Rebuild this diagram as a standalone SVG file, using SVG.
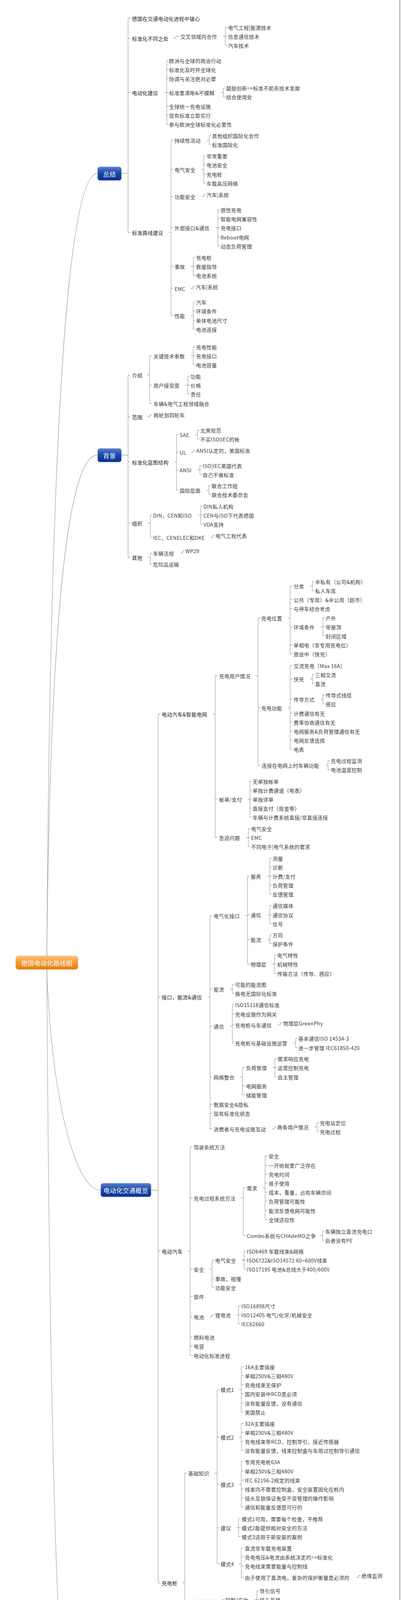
<svg xmlns="http://www.w3.org/2000/svg" width="1027" height="4794" viewBox="0 0 1027 4794">
<defs>
<linearGradient id="blue" x1="0" y1="0" x2="0" y2="1"><stop offset="0" stop-color="#5b7fcc"/><stop offset="0.45" stop-color="#1a49a8"/><stop offset="1" stop-color="#0a3190"/></linearGradient>
<linearGradient id="orange" x1="0" y1="0" x2="0" y2="1"><stop offset="0" stop-color="#fbc27a"/><stop offset="0.5" stop-color="#f29a33"/><stop offset="1" stop-color="#e07d12"/></linearGradient>
<style>
text{font-family:"Noto Sans CJK SC","Liberation Sans",sans-serif;font-size:13px;fill:#3a3a3a;dominant-baseline:central;letter-spacing:0.4px}
.l1{fill:#1e1e1e}
.bt{fill:#fff;font-size:16px;text-anchor:middle}
.box{fill:url(#blue);stroke:#9fb3dd;stroke-width:1}
.c path{fill:none;stroke:#a8a8a8;stroke-width:1.3}
.cv{fill:none;stroke:#b8b8b8;stroke-width:1.4}
</style>
</defs>
<rect width="1027" height="4794" fill="#fff"/>
<line x1="1024" y1="0" x2="1024" y2="4790" stroke="#999" stroke-width="2"/>
<line x1="0" y1="4791" x2="1027" y2="4791" stroke="#444" stroke-width="4"/>

<g id="connectors" class="c">
<path class="cv" d="M120 2447C130 844 190 444 250 444"/>
<path class="cv" d="M120 2447C130 1421 190 1165 250 1165"/>
<path class="cv" d="M120 2482C130 2795 190 3047 258 3047"/>
<path class="cv" d="M120 2482C130 4253 170 4696 220 4696"/>
<!-- 总结 -->
<path d="M311 444H328M328 47V595M328 47h6M328 98h6M328 237h6M328 595h6
M444 98H450V93h8
M571 93H577M577 70V116M577 70h5M577 93h5M577 116h5
M421 237H427M427 155V318M427 155h5M427 178h5M427 201h5M427 237h5M427 272h5M427 295h5M427 318h5
M566 237H572M572 225V248M572 225h5M572 248h5
M432 595H438M438 359V808M438 359h6M438 434h6M438 503h6M438 583h6M438 682h6M438 739h6M438 808h6
M530 359H536M536 347V370M536 347h5M536 370h5
M516 434H522M522 399V469M522 399h5M522 422h5M522 446h5M522 469h5
M516 503H522V498h5
M552 583H558M558 537V630M558 537h5M558 560h5M558 583h5M558 607h5M558 630h5
M489 682H495M495 659V705M495 659h5M495 682h5M495 705h5
M488 739H494V734h5
M489 808H495M495 773V843M495 773h5M495 796h5M495 820h5M495 843h5"/>
<!-- 背景 -->
<path d="M311 1165H328M328 960V1427M328 960h6M328 1067h6M328 1183h6M328 1339h6M328 1427h6
M377 960H383M383 911V1033M383 911h6M383 986h6M383 1033h6
M489 911H495M495 888V934M495 888h5M495 911h5M495 934h5
M475 986H481M481 963V1009M481 963h5M481 986h5M481 1009h5
M377 1067H383V1062h6
M446 1183H452M452 1113V1255M452 1113h5M452 1158h5M452 1203h5M452 1255h5
M500 1113H506M506 1101V1124M506 1101h5M506 1124h5
M490 1158H496V1153h5
M506 1203H512M512 1192V1215M512 1192h5M512 1215h5
M529 1255H535M535 1243V1266M535 1243h5M535 1266h5
M379 1339H385M385 1319V1376M385 1319h5M385 1376h5
M508 1319H514M514 1296V1342M514 1296h5M514 1319h5M514 1342h5
M539 1376H545V1371h5
M379 1427H385M385 1416V1444M385 1416h5M385 1444h5
M462 1416H468V1410h5"/>
<!-- 电动化交通概览 -->
<path d="M387 3047H405M405 1828V4052M405 1828h6M405 2552h6M405 3203h6M405 4052h6
M545 1828H551M551 1730V2144M551 1730h6M551 2046h6M551 2144h6
M655 1730H661M661 1582V1959M661 1582h6M661 1812h6M661 1959h6
M737 1582H743M743 1500V1674M743 1500h6M743 1535h6M743 1558h6M743 1605h6M743 1651h6M743 1674h6
M794 1500H800M800 1489V1512M800 1489h5M800 1512h5
M821 1605H827M827 1582V1628M827 1582h5M827 1605h5M827 1628h5
M737 1812H743M743 1704V1918M743 1704h6M743 1738h6M743 1790h6M743 1826h6M743 1849h6M743 1872h6M743 1895h6M743 1918h6
M794 1738H800M800 1727V1750M800 1727h5M800 1750h5
M821 1790H827M827 1779V1802M827 1779h5M827 1802h5
M834 1959H840M840 1947V1970M840 1947h5M840 1970h5
M634 2046H640M640 2000V2092M640 2000h5M640 2023h5M640 2046h5M640 2069h5M640 2092h5
M630 2144H636M636 2121V2167M636 2121h5M636 2144h5M636 2167h5
M532 2552H538M538 2344V2890M538 2344h6M538 2532h6M538 2627h6M538 2757h6M538 2827h6M538 2850h6M538 2890h6
M628 2344H634M634 2243V2468M634 2243h6M634 2342h6M634 2405h6M634 2468h6
M685 2243H691M691 2197V2289M691 2197h5M691 2220h5M691 2243h5M691 2266h5M691 2289h5
M685 2342H691M691 2318V2365M691 2318h5M691 2342h5M691 2365h5
M685 2405H691M691 2393V2416M691 2393h5M691 2416h5
M697 2468H703M703 2445V2492M703 2445h5M703 2468h5M703 2492h5
M589 2532H595M595 2520V2543M595 2520h5M595 2543h5
M589 2627H595M595 2572V2670M595 2572h5M595 2596h5M595 2624h5M595 2670h5
M712 2624H718V2619h5
M751 2670H757M757 2658V2682M757 2658h5M757 2682h5
M615 2757H621M621 2733V2803M621 2733h6M621 2780h6M621 2803h6
M698 2733H704M704 2710V2757M704 2710h5M704 2733h5M704 2757h5
M697 2890H703V2885h5
M806 2885H812M812 2874V2897M812 2874h5M812 2897h5
M481 3203H487M487 2936V3470M487 2936h6M487 3067h6M487 3249h6M487 3319h6M487 3371h6M487 3423h6M487 3446h6M487 3470h6
M617 3067H623M623 3041V3163M623 3041h6M623 3163h6
M673 3041H679M679 2959V3122M679 2959h6M679 2983h6M679 3006h6M679 3029h6M679 3052h6M679 3075h6M679 3099h6M679 3122h6
M820 3163H826M826 3152V3175M826 3152h5M826 3175h5
M537 3249H543M543 3226V3296M543 3226h5M543 3273h5M543 3296h5
M619 3226H625M625 3203V3249M625 3203h5M625 3226h5M625 3249h5
M537 3371H543V3366h5
M605 3366H611M611 3343V3389M611 3343h5M611 3366h5M611 3389h5
M467 4052H473M473 3771V4605M473 3771h6M473 4100h6M473 4152h6M473 4238h6M473 4455h6M473 4605h6
M550 3771H556M556 3557V4003M556 3557h6M556 3679h6M556 3800h6M556 3911h6M556 4003h6
M612 3557H618M618 3499V3615M618 3499h6M618 3522h6M618 3545h6M618 3568h6M618 3592h6M618 3615h6
M612 3679H618M618 3644V3713M618 3644h6M618 3667h6M618 3690h6M618 3713h6
M612 3800H618M618 3742V3858M618 3742h6M618 3766h6M618 3789h6M618 3812h6M618 3835h6M618 3858h6
M605 3911H611M611 3888V3934M611 3888h5M611 3911h5M611 3934h5
M612 4003H618M618 3963V4038M618 3963h6M618 3986h6M618 4009h6M618 4038h6
M913 4038H919V4033h5
M564 4100H570V4095h5
M652 4095H658M658 4072V4118M658 4072h5M658 4095h5M658 4118h5
M577 4238H583M583 4188V4289M583 4188h6M583 4238h6M583 4289h6
M654 4188H660M660 4176V4199M660 4176h5M660 4199h5
M654 4238H660V4233h5
M737 4233H743V4228h5
M654 4289H660M660 4277V4301M660 4277h5M660 4301h5
M523 4455H529M529 4341V4583M529 4341h6M529 4393h6M529 4438h6M529 4478h6M529 4523h6M529 4558h6M529 4583h6
M605 4341H611M611 4330V4353M611 4330h5M611 4353h5
M577 4393H583M583 4381V4405M583 4381h5M583 4405h5
M605 4438H611V4433h5
M668 4478H674V4473h5
M605 4523H611M611 4512V4535M611 4512h5M611 4535h5"/>
<!-- 未来 -->
<path d="M280 4696H299M299 4649V4743M299 4649h6M299 4673h6M299 4696h6M299 4720h6M299 4743h6"/>
</g>

<g id="root">
<rect x="40" y="2447" width="160" height="35" rx="7" fill="url(#orange)" stroke="#f3c890"/>
<text x="120" y="2465" class="bt">德国电动化路线图</text>
</g>

<g id="summary">
<rect class="box" x="250" y="427" width="61" height="35" rx="6"/>
<text x="280.5" y="445" class="bt">总结</text>
<text x="338" y="47" class="l1">德国在交通电动化进程中雄心</text>
<text x="338" y="98" class="l1">标准化不同之处</text>
<text x="462" y="93">交叉领域内合作</text>
<text x="584" y="70">电气工程|能源技术</text>
<text x="584" y="93">信息通信技术</text>
<text x="584" y="116">汽车技术</text>
<text x="338" y="237" class="l1">电动化建议</text>
<text x="433" y="155">欧洲与全球的政治行动</text>
<text x="433" y="178">标准化及时并全球化</text>
<text x="433" y="201">协调与关注绝对必要</text>
<text x="433" y="237">标准要清晰&amp;不模糊</text>
<text x="579" y="225">鼓励创新=&gt;标准不扼杀技术发展</text>
<text x="579" y="248">结合使用处</text>
<text x="433" y="272">全球统一充电设施</text>
<text x="433" y="295">现有标准立即实行</text>
<text x="433" y="318">参与欧洲全球标准化必要性</text>
<text x="338" y="595" class="l1">标准路线建议</text>
<text x="447" y="359">持续性活动</text>
<text x="543" y="347">其他组织国际化合作</text>
<text x="543" y="370">标准国际化</text>
<text x="447" y="434">电气安全</text>
<text x="529" y="399">非常重要</text>
<text x="529" y="422">电池安全</text>
<text x="529" y="446">充电桩</text>
<text x="529" y="469">车载高压网络</text>
<text x="447" y="503">功能安全</text>
<text x="529" y="498">汽车|系统</text>
<text x="447" y="583">外部接口&amp;通信</text>
<text x="565" y="537">感性充电</text>
<text x="565" y="560">智能电网兼容性</text>
<text x="565" y="583">充电接口</text>
<text x="565" y="607">Reboot电网</text>
<text x="565" y="630">动态负荷管理</text>
<text x="447" y="682">事故</text>
<text x="502" y="659">充电桩</text>
<text x="502" y="682">救援指导</text>
<text x="502" y="705">电池系统</text>
<text x="447" y="739">EMC</text>
<text x="501" y="734">汽车|系统</text>
<text x="447" y="808">性能</text>
<text x="502" y="773">汽车</text>
<text x="502" y="796">环境条件</text>
<text x="502" y="820">单体电池尺寸</text>
<text x="502" y="843">电池连接</text>
</g>

<g id="background">
<rect class="box" x="250" y="1148" width="61" height="35" rx="6"/>
<text x="280.5" y="1166" class="bt">背景</text>
<text x="338" y="960" class="l1">介绍</text>
<text x="393" y="911">关键技术参数</text>
<text x="502" y="888">充电性能</text>
<text x="502" y="911">充电接口</text>
<text x="502" y="934">电池容量</text>
<text x="393" y="986">用户接受度</text>
<text x="488" y="963">功能</text>
<text x="488" y="986">价格</text>
<text x="488" y="1009">责任</text>
<text x="393" y="1033">车辆&amp;电气工程领域融合</text>
<text x="338" y="1067" class="l1">范围</text>
<text x="393" y="1062">两轮到四轮车</text>
<text x="338" y="1183" class="l1">标准化蓝图结构</text>
<text x="460" y="1113">SAE</text>
<text x="513" y="1101">北美规范</text>
<text x="513" y="1124">不买ISO|IEC的帐</text>
<text x="460" y="1158">UL</text>
<text x="503" y="1153">ANSI认定的，美国标准</text>
<text x="460" y="1203">ANSI</text>
<text x="519" y="1192">ISO|IEC美国代表</text>
<text x="519" y="1215">自己不做标准</text>
<text x="460" y="1255">国际层面</text>
<text x="542" y="1243">联合工作组</text>
<text x="542" y="1266">联合技术委员会</text>
<text x="338" y="1339" class="l1">组织</text>
<text x="392" y="1319">DIN，CEN和ISO</text>
<text x="521" y="1296">DIN私人机构</text>
<text x="521" y="1319">CEN与ISO下代表德国</text>
<text x="521" y="1342">VDA支持</text>
<text x="392" y="1376">IEC，CENELEC和DKE</text>
<text x="552" y="1371">电气工程代表</text>
<text x="338" y="1427" class="l1">其他</text>
<text x="392" y="1416">车辆法规</text>
<text x="475" y="1410">WP29</text>
<text x="392" y="1444">危险品运输</text>
</g>

<g id="overview">
<rect class="box" x="258" y="3029" width="129" height="35" rx="6"/>
<text x="322.5" y="3047" class="bt">电动化交通概览</text>
<text x="414" y="1828" class="l1">电动汽车&amp;智能电网</text>
<text x="561" y="1730">充电用户情况</text>
<text x="669" y="1582">充电位置</text>
<text x="752" y="1500">分类</text>
<text x="807" y="1489">半私有（公司&amp;机构）</text>
<text x="807" y="1512">私人车库</text>
<text x="752" y="1535">公共（专用）&amp;半公用（超市）</text>
<text x="752" y="1558">与停车结合考虑</text>
<text x="752" y="1605">环境条件</text>
<text x="834" y="1582">户外</text>
<text x="834" y="1605">带屋顶</text>
<text x="834" y="1628">封闭区域</text>
<text x="752" y="1651">单相电（非专用充电位）</text>
<text x="752" y="1674">旅途中（快充）</text>
<text x="669" y="1812">充电功能</text>
<text x="752" y="1704">交流充电（Max 16A）</text>
<text x="752" y="1738">快充</text>
<text x="807" y="1727">三相交流</text>
<text x="807" y="1750">直流</text>
<text x="752" y="1790">传导方式</text>
<text x="834" y="1779">传导式线缆</text>
<text x="834" y="1802">感应</text>
<text x="752" y="1826">计费通信有无</text>
<text x="752" y="1849">费率协商通信有无</text>
<text x="752" y="1872">电网服务&amp;负荷管理通信有无</text>
<text x="752" y="1895">电网反馈选择</text>
<text x="752" y="1918">电表</text>
<text x="670" y="1959">连接在电网上时车辆功能</text>
<text x="847" y="1947">充电过程监测</text>
<text x="847" y="1970">电池温度控制</text>
<text x="561" y="2046">帐单/支付</text>
<text x="647" y="2000">无单独帐单</text>
<text x="647" y="2023">单独计费通道（电表）</text>
<text x="647" y="2046">单独详单</text>
<text x="647" y="2069">直接支付（现金等）</text>
<text x="647" y="2092">车辆与计费系统直接/非直接连接</text>
<text x="561" y="2144">急迫问题</text>
<text x="643" y="2121">电气安全</text>
<text x="643" y="2144">EMC</text>
<text x="643" y="2167">不同电子|电气系统的要求</text>

<text x="414" y="2552" class="l1">接口，能流&amp;通信</text>
<text x="547" y="2344">电气化接口</text>
<text x="642" y="2243">服务</text>
<text x="698" y="2197">测量</text>
<text x="698" y="2220">诊断</text>
<text x="698" y="2243">计费/支付</text>
<text x="698" y="2266">负荷管理</text>
<text x="698" y="2289">反馈管理</text>
<text x="642" y="2342">通信</text>
<text x="698" y="2318">通信媒体</text>
<text x="698" y="2342">通信协议</text>
<text x="698" y="2365">信号</text>
<text x="642" y="2405">能流</text>
<text x="698" y="2393">方向</text>
<text x="698" y="2416">保护条件</text>
<text x="642" y="2468">物理层</text>
<text x="710" y="2445">电气特性</text>
<text x="710" y="2468">机械特性</text>
<text x="710" y="2492">传输方法（传导、感应）</text>
<text x="547" y="2532">能流</text>
<text x="602" y="2520">可能的能流图</text>
<text x="602" y="2543">换电无国际化标准</text>
<text x="547" y="2627">通信</text>
<text x="602" y="2572">ISO15118通信标准</text>
<text x="602" y="2596">充电设施作为网关</text>
<text x="602" y="2624">充电桩与车通信</text>
<text x="725" y="2619">物理层GreenPhy</text>
<text x="602" y="2670">充电桩与基础设施运营</text>
<text x="764" y="2658">基本通信ISO 14534-3</text>
<text x="764" y="2682">进一步管理 IEC61850-420</text>
<text x="547" y="2757">网络整合</text>
<text x="630" y="2733">负荷管理</text>
<text x="711" y="2710">需求响应充电</text>
<text x="711" y="2733">运营控制充电</text>
<text x="711" y="2757">自主管理</text>
<text x="630" y="2780">电网服务</text>
<text x="630" y="2803">储能管理</text>
<text x="547" y="2827">数据安全&amp;隐私</text>
<text x="547" y="2850">现有标准化状态</text>
<text x="547" y="2890">消费者与充电设施互动</text>
<text x="710" y="2885">两条用户情况</text>
<text x="819" y="2874">充电站定位</text>
<text x="819" y="2897">充电过程</text>

<text x="414" y="3203" class="l1">电动汽车</text>
<text x="496" y="2936">驾驶系统方法</text>
<text x="496" y="3067">充电过程系统方法</text>
<text x="632" y="3041">需求</text>
<text x="688" y="2959">安全</text>
<text x="688" y="2983">一开始就要广泛存在</text>
<text x="688" y="3006">充电时间</text>
<text x="688" y="3029">易于使用</text>
<text x="688" y="3052">成本，重量，占有车辆空间</text>
<text x="688" y="3075">负荷管理可能性</text>
<text x="688" y="3099">能流反馈电网可能性</text>
<text x="688" y="3122">全球适应性</text>
<text x="632" y="3163">Combo系统与CHAdeMO之争</text>
<text x="833" y="3152">车辆独立直流充电口</text>
<text x="833" y="3175">后者没有PE</text>
<text x="496" y="3249">安全</text>
<text x="551" y="3226">电气安全</text>
<text x="632" y="3203">ISO6469 车载线束&amp;网络</text>
<text x="632" y="3226">ISO6722&amp;ISO14572 60~600V线束</text>
<text x="632" y="3249">ISO17195 电池&amp;总线大于400/600V</text>
<text x="551" y="3273">事故，碰撞</text>
<text x="551" y="3296">功能安全</text>
<text x="496" y="3319">部件</text>
<text x="496" y="3371">电池</text>
<text x="551" y="3366">锂电池</text>
<text x="618" y="3343">ISO16898尺寸</text>
<text x="618" y="3366">ISO12405 电气/化学/机械安全</text>
<text x="618" y="3389">IEC62660</text>
<text x="496" y="3423">燃料电池</text>
<text x="496" y="3446">电容</text>
<text x="496" y="3470">电动化标准进程</text>

<text x="414" y="4052" class="l1">充电桩</text>
<text x="482" y="3771">基础知识</text>
<text x="565" y="3557">模式1</text>
<text x="627" y="3499">16A主要插座</text>
<text x="627" y="3522">单相250V&amp;三相480V</text>
<text x="627" y="3545">充电线束无保护</text>
<text x="627" y="3568">国内安装中RCD是必须</text>
<text x="627" y="3592">没有能量反馈，没有通信</text>
<text x="627" y="3615">美国禁止</text>
<text x="565" y="3679">模式2</text>
<text x="627" y="3644">32A主要插座</text>
<text x="627" y="3667">单相250V&amp;三相480V</text>
<text x="627" y="3690">充电线束带RCD，控制导引，接近传感器</text>
<text x="627" y="3713">没有能量反馈，线束控制盒与车用过控制导引通信</text>
<text x="565" y="3800">模式3</text>
<text x="627" y="3742">专用充电桩63A</text>
<text x="627" y="3766">单相250V&amp;三相480V</text>
<text x="627" y="3789">IEC 62196-2规定的线束</text>
<text x="627" y="3812">线束内不需要控制盒，安全装置固化在桩内</text>
<text x="627" y="3835">插头互锁保证免受不受管理的操作影响</text>
<text x="627" y="3858">通信和能量反馈是可行的</text>
<text x="565" y="3911">建议</text>
<text x="619" y="3888">模式1可用，需要每个检查，不推荐</text>
<text x="619" y="3911">模式2能提供相对安全的方法</text>
<text x="619" y="3934">模式3适用于新安装的案例</text>
<text x="565" y="4003">模式4</text>
<text x="627" y="3963">直流非车载充电装置</text>
<text x="627" y="3986">充电电压&amp;电流由系统决定的=&gt;标准化</text>
<text x="627" y="4009">充电线束需要能量与控制线</text>
<text x="627" y="4038">由于使用了直流电，复杂的保护衡量是必须的</text>
<text x="926" y="4033">绝缘监测</text>
<text x="482" y="4100">交流充电桩</text>
<text x="577" y="4095">控制/安全</text>
<text x="665" y="4072">导引信号</text>
<text x="665" y="4095">插头互锁</text>
<text x="665" y="4118">断开与保护</text>
<text x="482" y="4152">直流充电桩</text>
<text x="482" y="4238">充电系统概览</text>
<text x="591" y="4188">优先级1</text>
<text x="667" y="4176">交流充电模式1~3</text>
<text x="667" y="4199">直流充电超过50kW=&gt;未来</text>
<text x="591" y="4238">优先级2</text>
<text x="667" y="4233">感应充电</text>
<text x="750" y="4228">低功率&amp;便利性</text>
<text x="591" y="4289">优先级3</text>
<text x="667" y="4277">换电池</text>
<text x="667" y="4301">液流电池</text>
<text x="482" y="4455">安全</text>
<text x="537" y="4341">电气安全</text>
<text x="618" y="4330">IEC 60364-4-41</text>
<text x="618" y="4353">IEC 61140</text>
<text x="537" y="4393">EMC</text>
<text x="590" y="4381">IEC61000-6-2</text>
<text x="590" y="4405">IEC61000-6-3</text>
<text x="537" y="4438">功能安全</text>
<text x="618" y="4433">IEC61508</text>
<text x="537" y="4478">闪变保护&amp;过压保护</text>
<text x="681" y="4473">IEC61851-1</text>
<text x="537" y="4523">结构安全</text>
<text x="618" y="4512">IEC61439-7</text>
<text x="618" y="4535">IEC60634-7-722</text>
<text x="537" y="4558">操作安全可靠</text>
<text x="537" y="4583">安全安全/机械安全</text>
<text x="482" y="4605">现有充电桩标准化</text>
</g>

<g id="future">
<rect class="box" x="220" y="4678" width="60" height="35" rx="6"/>
<text x="250" y="4696" class="bt">未来</text>
<text x="307" y="4649" class="l1">退化电池的回收</text>
<text x="307" y="4673" class="l1">能量返回至电网</text>
<text x="307" y="4696" class="l1">通信</text>
<text x="307" y="4720" class="l1">标准化电压</text>
<text x="307" y="4743" class="l1">车辆移动中的感应充电</text>
</g>
</svg>
